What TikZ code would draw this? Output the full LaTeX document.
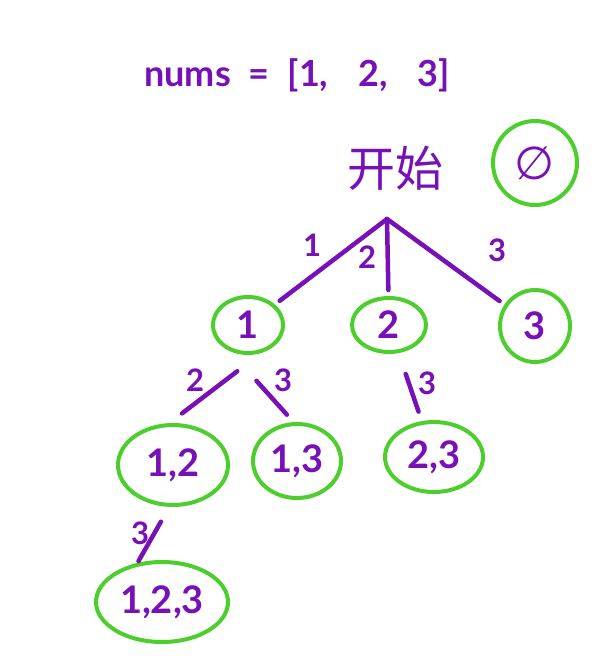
\documentclass[tikz,border=0pt]{standalone}
\usepackage{fontspec}
\setmainfont{Lato}
\newfontfamily\cjk{Noto Sans CJK SC}
\newfontfamily\symb{DejaVu Sans}
\usepackage{tikz}
\usetikzlibrary{arrows.meta, positioning, shapes.geometric}
\definecolor{pen}{RGB}{120,16,184}
\definecolor{ring}{RGB}{76,206,44}
\tikzset{
  set/.style={ellipse, draw=ring, line width=4pt, inner sep=0pt, text=pen, font=\fontsize{38}{38}\selectfont\bfseries},
  link/.style={pen, line width=4.5pt, line cap=round},
  lbl/.style={text=pen, font=\fontsize{31}{31}\selectfont\bfseries, inner sep=0pt}
}

\begin{document}
\begin{tikzpicture}[x=1pt, y=-1pt]
  \useasboundingbox (0,0) rectangle (611,660);

  % Title
  \node[lbl, font=\fontsize{36}{36}\selectfont\bfseries] (title) at (297,75) {nums\hspace{18pt}=\hspace{18pt}[1,\hspace{30pt}2,\hspace{30pt}3]};

  % Start and the empty set
  \node[text=pen, font=\cjk\fontsize{48}{48}\selectfont] (start) at (395,168) {开始};
  \coordinate (root) at (387,219);
  \node[set, minimum width=84pt, minimum height=84pt, font=\symb\fontsize{46}{46}\selectfont] (empty) at (535,163) {∅};

  % Subsets
  \node[set, minimum width=70pt, minimum height=56pt] (n1) at (248,325) {1};
  \node[set, minimum width=74pt, minimum height=54pt] (n2) at (389,325) {2};
  \node[set, minimum width=70pt, minimum height=72pt] (n3) at (535,326) {3};
  \node[set, minimum width=110pt, minimum height=80pt] (n12) at (173,465) {1,2};
  \node[set, minimum width=88pt, minimum height=74pt] (n13) at (297,461) {1,3};
  \node[set, minimum width=98pt, minimum height=70pt] (n23) at (434,457) {2,3};
  \node[set, minimum width=132pt, minimum height=80pt] (n123) at (162,602) {1,2,3};

  % Branches
  \foreach \t in {n1, n2, n3.145} {
    \draw[link, shorten >=6pt] (root) -- (\t);
  }
  \draw[link, shorten <=30pt, shorten >=16pt] (n1.-65) -- (n12.95);
  \draw[link, shorten <=40pt, shorten >=10pt] (n1.-125) -- (n13.95);
  \draw[link, shorten <=22pt, shorten >=10pt] (n2) -- (n23);
  \draw[link, shorten <=17pt, shorten >=2pt] (n12.-95) -- (n123.122);

  % Branch labels
  \node[lbl] (e1) at (312,245) {1};
  \node[lbl] (e2) at (367,257) {2};
  \node[lbl] (e3) at (497,250) {3};
  \node[lbl] (e12) at (195,380) {2};
  \node[lbl] (e13) at (283,380) {3};
  \node[lbl] (e23) at (427,383) {3};
  \node[lbl] (e123) at (140,533) {3};
\end{tikzpicture}
\end{document}
